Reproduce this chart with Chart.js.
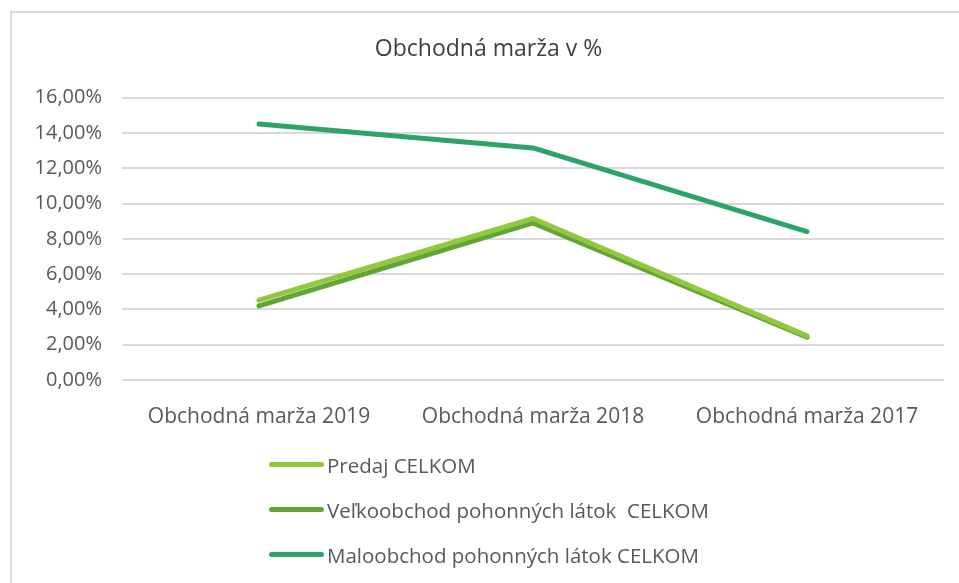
<!DOCTYPE html>
<html>
<head>
<meta charset="utf-8">
<script src="https://cdn.jsdelivr.net/npm/chart.js@4.4.0/dist/chart.umd.min.js"></script>
<style>
  html, body { margin: 0; padding: 0; background: #fff; }
  #wrap { position: relative; width: 959px; height: 583px; overflow: hidden; }
  #frame { position: absolute; left: 10px; top: 11px; width: 970px; height: 600px; border: 2px solid #dadada; }
  #myChart { position: absolute; left: 0; top: 0; }
  #legend { position: absolute; left: 269px; top: 442px; font-family: "Open Sans", sans-serif; font-size: 20.5px; color: #595959; white-space: pre; }
  #legend div { height: 45px; display: flex; align-items: center; }
  #legend span.swatch { display: inline-block; width: 55px; height: 5px; border-radius: 3px; margin-right: 3px; }
</style>
</head>
<body>
<div id="wrap">
  <div id="frame"></div>
  <canvas id="myChart" width="959" height="583"></canvas>
  <div id="legend"></div>
</div>
<script>
var categories = ['Obchodná marža 2019', 'Obchodná marža 2018', 'Obchodná marža 2017'];
var predaj = [4.52, 9.15, 2.5];
var velkoobchod = [4.2, 8.9, 2.42];
var maloobchod = [14.51, 13.15, 8.41];
var seriesNames = ['Predaj CELKOM', 'Veľkoobchod pohonných látok  CELKOM', 'Maloobchod pohonných látok CELKOM'];
var seriesColors = ['#92c83e', '#62a536', '#2ca468'];

var ctx = document.getElementById('myChart').getContext('2d');
var myChart = new Chart(ctx, {
    type: 'line',
    data: {
        labels: categories,
        datasets: [{
                label: seriesNames[0],
                data: predaj,
                borderColor: seriesColors[0],
                backgroundColor: seriesColors[0],
                borderWidth: 5,
                fill: false,
                tension: 0
            }, {
                label: seriesNames[1],
                data: velkoobchod,
                borderColor: seriesColors[1],
                backgroundColor: seriesColors[1],
                borderWidth: 5,
                fill: false,
                tension: 0
            }, {
                label: seriesNames[2],
                data: maloobchod,
                borderColor: seriesColors[2],
                backgroundColor: seriesColors[2],
                borderWidth: 5,
                fill: false,
                tension: 0
            }]
    },
    options: {
        responsive: false,
        animation: false,
        elements: { point: { radius: 0 }, line: { borderCapStyle: 'round', borderJoinStyle: 'round' } },
        layout: { padding: { left: 33, right: 15, top: 0, bottom: 143 } },
        plugins: {
            legend: { display: false },
            tooltip: { enabled: false },
            title: {
                display: true,
                text: 'Obchodná marža v %',
                color: '#404040',
                font: { family: '"Open Sans", sans-serif', size: 23, weight: 'normal', lineHeight: 1.2 },
                padding: { top: 36, bottom: 34 }
            }
        },
        scales: {
            x: {
                offset: true,
                grid: { display: false },
                border: { display: false },
                ticks: { color: '#595959', font: { family: '"Open Sans", sans-serif', size: 21 }, padding: 16, maxRotation: 0 },
                afterFit: function (scale) { scale.height = 60; }
            },
            y: {
                min: 0,
                max: 16,
                border: { display: false },
                grid: { color: '#d9d9d9', lineWidth: 2, drawTicks: false },
                ticks: {
                    stepSize: 2,
                    padding: 20,
                    color: '#595959',
                    font: { family: '"Open Sans", sans-serif', size: 20 },
                    callback: function (v) { return v.toFixed(2).replace('.', ',') + '%'; }
                },
                afterFit: function (scale) { scale.width = 89; }
            }
        }
    }
});

// vertical legend built from the datasets
var legend = document.getElementById('legend');
myChart.data.datasets.forEach(function (ds) {
    var row = document.createElement('div');
    var sw = document.createElement('span');
    sw.className = 'swatch';
    sw.style.background = ds.borderColor;
    row.appendChild(sw);
    row.appendChild(document.createTextNode(ds.label));
    legend.appendChild(row);
});
</script>
</body>
</html>
